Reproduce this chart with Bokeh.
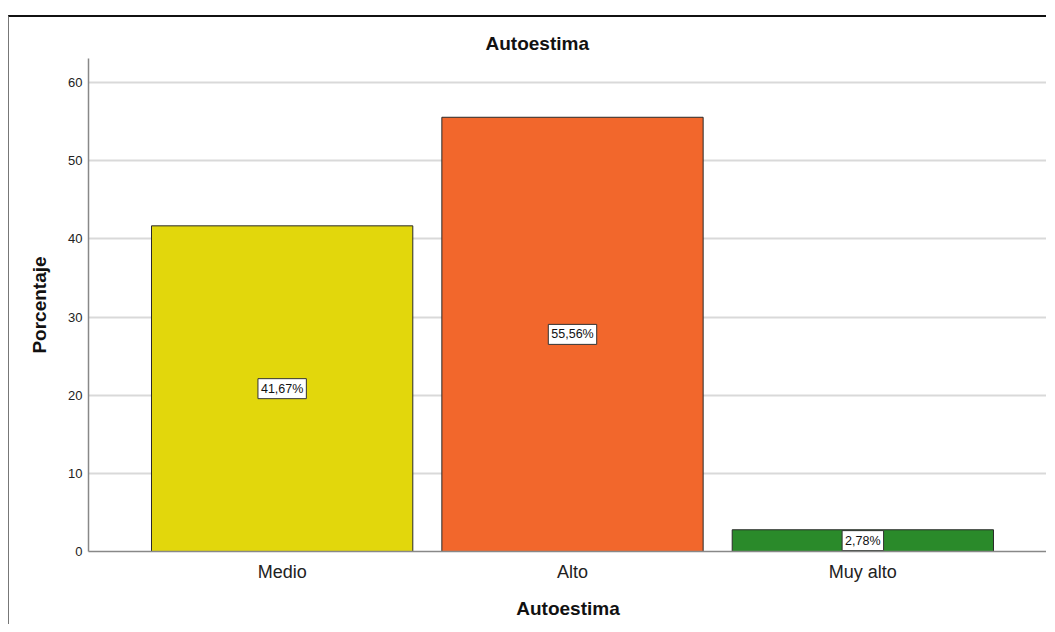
from bokeh.plotting import figure
from bokeh.models import ColumnDataSource, FixedTicker, Range1d, Title
from bokeh.core.properties import value
from bokeh.embed import file_html
from bokeh.resources import INLINE

categories = ["Medio", "Alto", "Muy alto"]
percentages = [41.67, 55.56, 2.78]
bar_colors = ["#e2d70c", "#f2672c", "#2a8a2a"]
y_ticks = [0, 10, 20, 30, 40, 50, 60]

xs = list(range(len(categories)))
labels = [f"{v:.2f}".replace(".", ",") + "%" for v in percentages]
mid = [v / 2 for v in percentages]

src = ColumnDataSource(dict(x=xs, top=percentages, color=bar_colors, mid=mid, label=labels))

FONT = "Liberation Sans"

p = figure(width=1038, height=609, output_backend="svg", toolbar_location=None,
           x_range=Range1d(-0.667, 2.636), y_range=Range1d(0, 63.08),
           min_border_left=79, min_border_right=0, min_border_top=41, min_border_bottom=75)
p.styles = {"border-top": "2px solid #111111", "border-left": "1px solid #777777",
            "margin-top": "15px", "margin-left": "8px"}

p.title = Title(text="Autoestima", align="left", offset=397, text_font=FONT,
                text_font_size="19px", text_font_style="bold", text_color="#111111", standoff=9)

p.vbar(x="x", top="top", width=0.9, bottom=0, source=src, fill_color="color",
       line_color="#2a2a2a", line_width=1)

p.text(x="x", y="mid", text="label", source=src, text_align="center",
       text_baseline="middle", text_font=value(FONT), text_font_size="12.5px",
       text_color="#111111", background_fill_color="white",
       border_line_color="#333333", border_line_width=1, padding=3)

p.outline_line_color = None
p.background_fill_color = "white"
p.border_fill_color = "white"

p.xgrid.grid_line_color = None
p.ygrid.grid_line_color = "#d9d9d9"
p.ygrid.grid_line_width = 2
p.ygrid.ticker = FixedTicker(ticks=y_ticks)

p.xaxis.ticker = FixedTicker(ticks=xs)
p.xaxis.major_label_overrides = {i: c for i, c in zip(xs, categories)}
p.xaxis.axis_label = "Autoestima"
p.yaxis.ticker = FixedTicker(ticks=y_ticks)
p.yaxis.axis_label = "Porcentaje"

for ax in (p.xaxis, p.yaxis):
    ax.axis_line_color = "#888888"
    ax.axis_line_width = 1.5
    ax.major_tick_line_color = None
    ax.minor_tick_line_color = None
    ax.major_tick_out = 0
    ax.major_tick_in = 0
    ax.axis_label_text_font = FONT
    ax.axis_label_text_font_style = "bold"
    ax.axis_label_text_font_size = "19px"
    ax.axis_label_text_color = "#111111"
    ax.major_label_text_font = FONT
    ax.major_label_text_color = "#222222"

p.xaxis.major_label_text_font_size = "18px"
p.xaxis.major_label_standoff = 10
p.xaxis.axis_label_standoff = 13
p.yaxis.major_label_text_font_size = "13px"
p.yaxis.major_label_standoff = 6
p.yaxis.axis_label_standoff = 15

open("out.html", "w").write(file_html(p, INLINE))
